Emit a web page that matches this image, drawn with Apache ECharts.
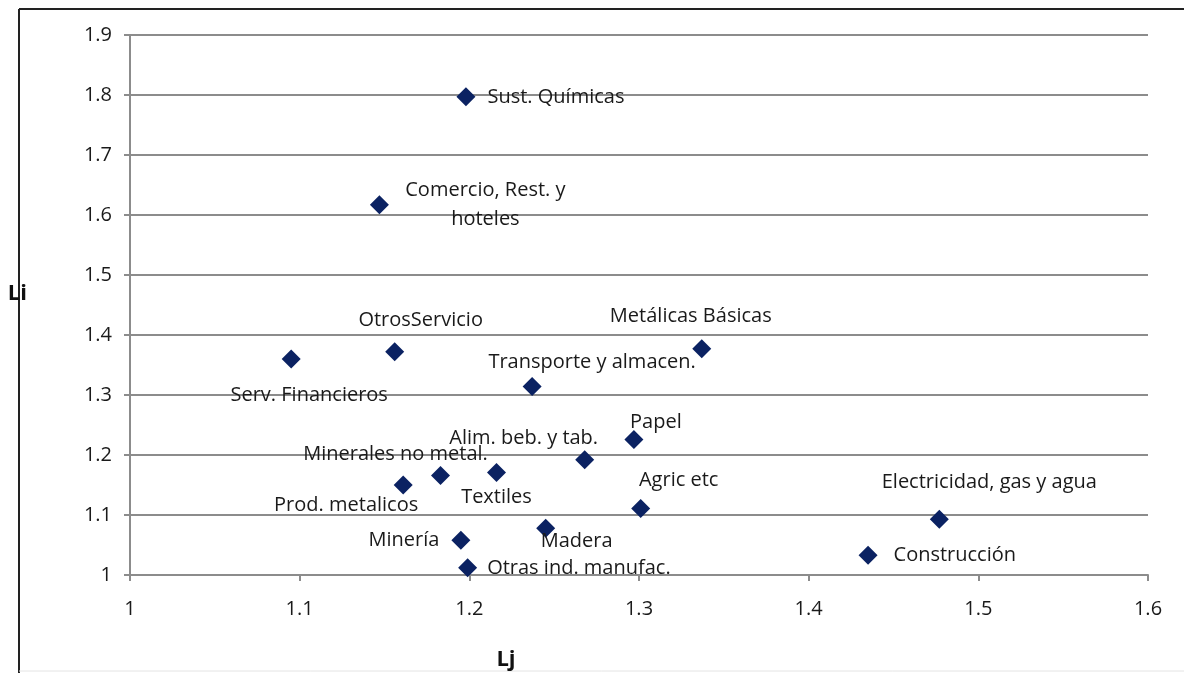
<!DOCTYPE html>
<html>
<head>
<meta charset="utf-8">
<title>Li vs Lj</title>
<script src="https://cdn.jsdelivr.net/npm/echarts@6/dist/echarts.min.js"></script>
<style>
  html, body { margin: 0; padding: 0; background: #fff; }
  #chart { width: 1184px; height: 673px; }
</style>
</head>
<body>
<div id="chart"></div>
<script>
// sector names and their linkage indices
const sectors = [
  "Sust. Químicas", "Comercio, Rest. y\nhoteles", "OtrosServicio", "Serv. Financieros",
  "Metálicas Básicas", "Transporte y almacen.", "Papel", "Alim. beb. y tab.",
  "Minerales no metal.", "Textiles", "Prod. metalicos", "Agric etc",
  "Electricidad, gas y agua", "Madera", "Minería", "Otras ind. manufac.", "Construcción"
];
const ljValues = [
  1.198, 1.147, 1.156, 1.095,
  1.337, 1.237, 1.297, 1.268,
  1.183, 1.216, 1.161, 1.301,
  1.477, 1.245, 1.195, 1.199, 1.435
];
const liValues = [
  1.797, 1.617, 1.372, 1.360,
  1.377, 1.314, 1.226, 1.192,
  1.166, 1.171, 1.150, 1.111,
  1.093, 1.078, 1.058, 1.012, 1.033
];
const xTicks = [1, 1.1, 1.2, 1.3, 1.4, 1.5, 1.6];
const yTicks = [1, 1.1, 1.2, 1.3, 1.4, 1.5, 1.6, 1.7, 1.8, 1.9];

// where each label sits relative to its marker
const labelPlace = {
  "Sust. Químicas": ["right", 12],
  "Comercio, Rest. y\nhoteles": ["inside", 106, 0],
  "OtrosServicio": ["inside", 26, -32],
  "Serv. Financieros": ["inside", 18, 36],
  "Metálicas Básicas": ["inside", -11, -33],
  "Transporte y almacen.": ["inside", 60, -24],
  "Papel": ["inside", 22, -17],
  "Alim. beb. y tab.": ["inside", -61, -22],
  "Minerales no metal.": ["inside", -45, -21],
  "Textiles": ["inside", 0, 25],
  "Prod. metalicos": ["inside", -57, 20],
  "Agric etc": ["inside", 38, -28],
  "Electricidad, gas y agua": ["inside", 50, -37],
  "Madera": ["inside", 31, 13],
  "Minería": ["left", 12],
  "Otras ind. manufac.": ["right", 10],
  "Construcción": ["right", 16]
};

const FONT = "'Open Sans', 'Liberation Sans', sans-serif";

const points = sectors.map((name, i) => {
  const p = labelPlace[name];
  const label = p[0] === "inside"
    ? { position: "inside", offset: [p[1], p[2]], align: "center", verticalAlign: "middle" }
    : { position: p[0], distance: p[1] };
  return { name: name, value: [ljValues[i], liValues[i]], label: label };
});

const chart = echarts.init(document.getElementById("chart"));

chart.setOption({
  animation: false,
  backgroundColor: "#fff",
  textStyle: { fontFamily: FONT },
  grid: { left: 130, right: 36, top: 35, bottom: 98, containLabel: false, outerBoundsMode: "none" },
  xAxis: {
    type: "value",
    min: xTicks[0],
    max: xTicks[xTicks.length - 1],
    interval: 0.1,
    name: "Lj",
    nameLocation: "middle",
    nameGap: 74,
    nameTextStyle: { fontFamily: FONT, fontWeight: "bold", fontSize: 22, color: "#111", padding: [0, 266, 0, 0] },
    axisLine: { show: true, lineStyle: { color: "#8c8c8c", width: 2 } },
    axisTick: { show: true, length: 6, lineStyle: { color: "#8c8c8c", width: 2 } },
    axisLabel: { margin: 24, fontSize: 20, color: "#1a1a1a", fontFamily: FONT },
    splitLine: { show: false }
  },
  yAxis: {
    type: "value",
    min: yTicks[0],
    max: yTicks[yTicks.length - 1],
    interval: 0.1,
    name: "Li",
    nameLocation: "middle",
    nameGap: 103,
    nameRotate: 0,
    nameTextStyle: { fontFamily: FONT, fontWeight: "bold", fontSize: 22, color: "#111", verticalAlign: "bottom" },
    axisLine: { show: true, lineStyle: { color: "#8c8c8c", width: 2 } },
    axisTick: { show: true, length: 6, lineStyle: { color: "#8c8c8c", width: 2 } },
    axisLabel: { margin: 18, fontSize: 20, color: "#1a1a1a", fontFamily: FONT },
    splitLine: { show: true, lineStyle: { color: "#8c8c8c", width: 2 } }
  },
  graphic: [
    { type: "line", shape: { x1: 19, y1: 9, x2: 1184, y2: 9 }, style: { stroke: "#222", lineWidth: 2 } },
    { type: "line", shape: { x1: 19, y1: 9, x2: 19, y2: 673 }, style: { stroke: "#222", lineWidth: 2 } },
    { type: "line", shape: { x1: 19, y1: 671, x2: 1184, y2: 671 }, style: { stroke: "#e4e4e4", lineWidth: 1 } }
  ],
  series: [{
    type: "scatter",
    symbol: "diamond",
    symbolSize: [19, 19],
    itemStyle: { color: "#0b2262", opacity: 1 },
    label: {
      show: true,
      formatter: "{b}",
      fontSize: 20,
      lineHeight: 29,
      color: "#1a1a1a",
      fontFamily: FONT
    },
    emphasis: { disabled: true },
    data: points
  }]
});
</script>
</body>
</html>
